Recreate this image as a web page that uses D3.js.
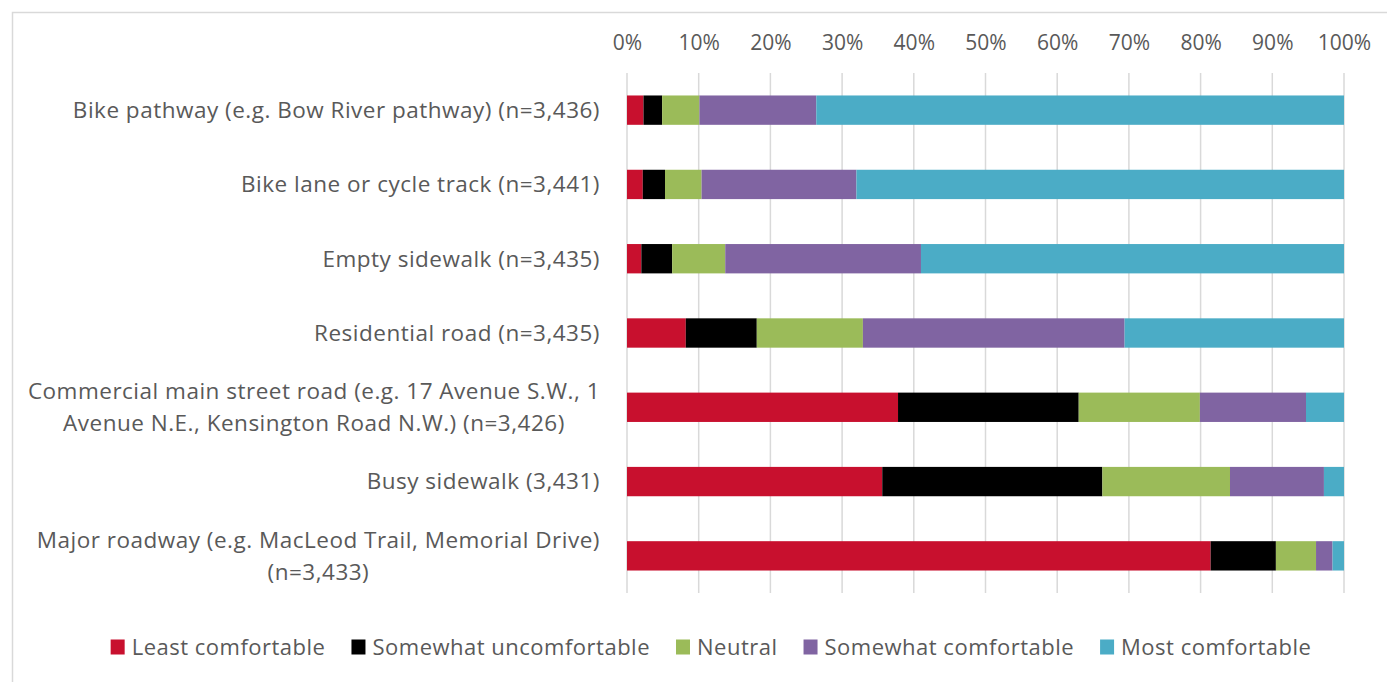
<!DOCTYPE html>
<html>
<head>
<meta charset="utf-8">
<style>
  body { margin: 0; background: #fff; }
  svg text { font-family: "Open Sans", sans-serif; fill: #595959; }
  .grid line { stroke: #d9d9d9; stroke-width: 1.5px; }
</style>
<script src="https://d3js.org/d3.v7.min.js"></script>
</head>
<body>
<div id="chart"></div>
<script>
// categories, top to bottom ("\n" marks where the label wraps)
var categories = [
  "Bike pathway (e.g. Bow River pathway) (n=3,436)",
  "Bike lane or cycle track (n=3,441)",
  "Empty sidewalk (n=3,435)",
  "Residential road (n=3,435)",
  "Commercial main street road (e.g. 17 Avenue S.W., 1\nAvenue N.E., Kensington Road N.W.) (n=3,426)",
  "Busy sidewalk (3,431)",
  "Major roadway (e.g. MacLeod Trail, Memorial Drive)\n(n=3,433)"
];
var seriesNames = ["Least comfortable", "Somewhat uncomfortable", "Neutral", "Somewhat comfortable", "Most comfortable"];
var seriesColors = ["#c8102e", "#000000", "#9bbb59", "#8064a2", "#4bacc6"];

// percentages, one value per category
var leastComfortable       = [2.3, 2.2, 2.0, 8.2, 37.8, 35.6, 81.4];
var somewhatUncomfortable  = [2.6, 3.1, 4.3, 9.9, 25.2, 30.7, 9.1];
var neutral                = [5.2, 5.1, 7.4, 14.8, 16.9, 17.8, 5.6];
var somewhatComfortable    = [16.3, 21.6, 27.3, 36.5, 14.8, 13.1, 2.3];
var mostComfortable        = [73.6, 68.0, 59.0, 30.6, 5.3, 2.8, 1.6];

var tickValues = [0, 10, 20, 30, 40, 50, 60, 70, 80, 90, 100];

var W = 1387, H = 682;
var margin = { top: 73, left: 627, right: 43, bottom: 89 };

var rows = categories.map(function (c, i) {
  return {
    cat: c,
    "Least comfortable": leastComfortable[i],
    "Somewhat uncomfortable": somewhatUncomfortable[i],
    "Neutral": neutral[i],
    "Somewhat comfortable": somewhatComfortable[i],
    "Most comfortable": mostComfortable[i]
  };
});

var svg = d3.select("#chart").append("svg")
  .attr("width", W).attr("height", H);

// chart outline
svg.append("rect")
  .attr("x", 12.5).attr("y", 12.5)
  .attr("width", W + 20).attr("height", H + 20)
  .attr("fill", "none").attr("stroke", "#d9d9d9").attr("stroke-width", 1.5);

var x = d3.scaleLinear().domain([0, 100]).range([margin.left, W - margin.right]);
var y = d3.scaleBand().domain(categories)
  .range([margin.top, H - margin.bottom])
  .paddingInner(0.605).paddingOuter(0.3025);

var color = d3.scaleOrdinal().domain(seriesNames).range(seriesColors);

// gridlines
svg.append("g").attr("class", "grid")
  .selectAll("line").data(tickValues).enter().append("line")
  .attr("x1", function (d) { return x(d); })
  .attr("x2", function (d) { return x(d); })
  .attr("y1", margin.top).attr("y2", H - margin.bottom);

// top axis labels
var xAxis = d3.axisTop(x).tickValues(tickValues).tickSize(0).tickPadding(23)
  .tickFormat(function (d) { return d + "%"; });
var ax = svg.append("g").attr("transform", "translate(0," + margin.top + ")").call(xAxis);
ax.select(".domain").remove();
ax.selectAll("text").style("font-family", "Open Sans").style("font-size", "21px").attr("fill", "#595959");

// stacked bars
var stack = d3.stack().keys(seriesNames);
var layers = stack(rows);

svg.selectAll(".layer").data(layers).enter().append("g")
  .attr("class", "layer")
  .attr("fill", function (d) { return color(d.key); })
  .selectAll("rect").data(function (d) { return d; }).enter().append("rect")
  .attr("x", function (d) { return x(d[0]); })
  .attr("y", function (d) { return y(d.data.cat); })
  .attr("width", function (d) { return x(d[1]) - x(d[0]); })
  .attr("height", y.bandwidth());

// category labels
var labelRight = margin.left - 27;
var lineGap = 32;
categories.forEach(function (c) {
  var lines = c.split("\n");
  var cy = y(c) + y.bandwidth() / 2;
  var g = svg.append("g");
  var texts = lines.map(function (ln, j) {
    return g.append("text")
      .attr("y", cy + (j - (lines.length - 1) / 2) * lineGap)
      .attr("dy", "0.35em")
      .style("font-size", "22.5px")
      .style("letter-spacing", "0.5px")
      .text(ln);
  });
  if (lines.length === 1) {
    texts[0].attr("x", labelRight).attr("text-anchor", "end");
  } else {
    var maxW = d3.max(texts, function (t) { return t.node().getComputedTextLength(); });
    texts.forEach(function (t) {
      t.attr("x", labelRight - maxW / 2).attr("text-anchor", "middle");
    });
  }
});

// legend
var legend = svg.append("g");
var lx = 0;
seriesNames.forEach(function (s, i) {
  var item = legend.append("g").attr("transform", "translate(" + lx + ",0)");
  item.append("rect").attr("x", 0).attr("y", -7.5).attr("width", 14).attr("height", 15)
    .attr("fill", color(s));
  var t = item.append("text").attr("x", 21).attr("dy", "0.35em")
    .style("font-size", "22px").style("letter-spacing", "0.5px").text(s);
  lx += 21 + t.node().getComputedTextLength() + 26;
});
lx -= 26;
legend.attr("transform", "translate(" + (711 - lx / 2) + ",647)");
</script>
</body>
</html>
